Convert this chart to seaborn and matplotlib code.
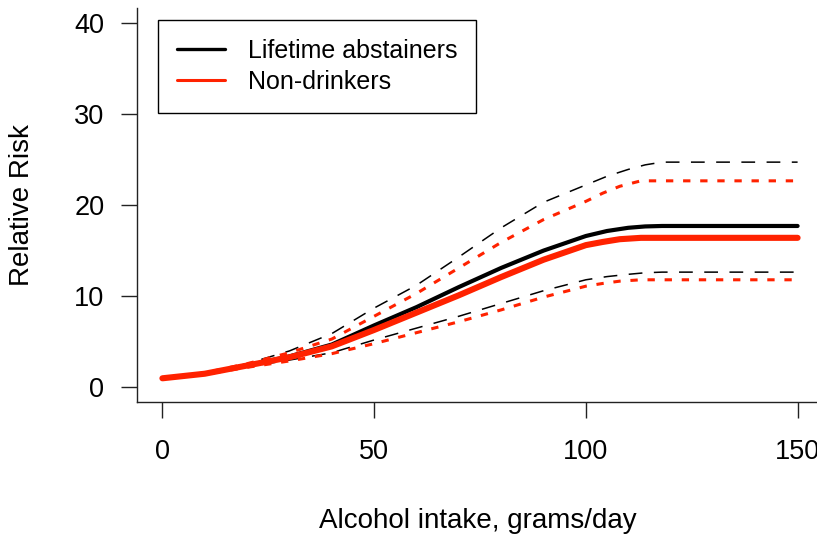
import pandas as pd
import matplotlib
matplotlib.use("Agg")
import matplotlib.pyplot as plt
from matplotlib.lines import Line2D
import seaborn as sns

# relative risk curves
x_abst = [0, 10, 20, 30, 40, 50, 60, 70, 80, 90, 100, 105, 110, 114, 118, 150]
rr_abst = [1.0, 1.5, 2.4, 3.4, 4.7, 6.8, 8.8, 11.0, 13.1, 15.0, 16.6, 17.15, 17.5, 17.65, 17.7, 17.7]
hi_abst = [1.0, 1.6, 2.6, 4.0, 5.9, 8.7, 11.2, 14.3, 17.5, 20.3, 22.2, 23.15, 23.9, 24.4, 24.7, 24.7]
lo_abst = [1.0, 1.45, 2.25, 3.0, 3.8, 5.2, 6.5, 7.8, 9.2, 10.6, 11.8, 12.15, 12.4, 12.57, 12.64, 12.64]

x_non = [0, 10, 20, 30, 40, 50, 60, 70, 80, 90, 100, 104, 108, 113, 150]
rr_non = [1.0, 1.5, 2.4, 3.3, 4.5, 6.3, 8.2, 10.1, 12.1, 14.0, 15.6, 15.95, 16.25, 16.4, 16.4]
hi_non = [1.0, 1.6, 2.6, 3.8, 5.3, 7.8, 10.3, 13.1, 15.9, 18.4, 20.4, 21.3, 22.05, 22.65, 22.65]
lo_non = [1.0, 1.45, 2.2, 2.9, 3.7, 4.8, 6.0, 7.2, 8.5, 9.9, 11.1, 11.4, 11.65, 11.8, 11.8]

labels = ['Lifetime abstainers', 'Non-drinkers']
x_ticks = [0, 50, 100, 150]
y_ticks = [0, 10, 20, 30, 40]

RED = '#FF2200'

sns.set_style('ticks')
plt.rcParams['font.family'] = ['Liberation Sans', 'DejaVu Sans']
plt.rcParams['text.color'] = 'black'
plt.rcParams['axes.labelcolor'] = 'black'
plt.rcParams['xtick.labelcolor'] = 'black'
plt.rcParams['ytick.labelcolor'] = 'black'

fig = plt.figure(figsize=(8.17, 5.38), dpi=100)
ax = fig.add_axes([137/817, 136/538, 686/817, 394/538])

abst = pd.DataFrame({'x': x_abst, 'rr': rr_abst, 'hi': hi_abst, 'lo': lo_abst})
non = pd.DataFrame({'x': x_non, 'rr': rr_non, 'hi': hi_non, 'lo': lo_non})

# black (abstainers) first, red drawn over it
for col in ['hi', 'lo']:
    l = sns.lineplot(data=abst, x='x', y=col, ax=ax, color='black', linewidth=1.1, sort=False)
    l.lines[-1].set_dashes((9, 7.5))
sns.lineplot(data=abst, x='x', y='rr', ax=ax, color='black', linewidth=3.0, sort=False)
for col in ['hi', 'lo']:
    l = sns.lineplot(data=non, x='x', y=col, ax=ax, color=RED, linewidth=2.2, sort=False)
    l.lines[-1].set_dashes((2.4, 3.2))
sns.lineplot(data=non, x='x', y='rr', ax=ax, color=RED, linewidth=4.4, sort=False)

ax.set_xlim(-6, 156)
ax.set_ylim(-1.6, 41.6)
ax.set_xticks(x_ticks)
ax.set_yticks(y_ticks)
ax.tick_params(axis='both', labelsize=19.5, length=11.5, width=1.0, color='#222222')
ax.tick_params(axis='y', pad=12)
ax.tick_params(axis='x', pad=15)
for s in ['top', 'right']:
    ax.spines[s].set_visible(False)
for s in ['left', 'bottom']:
    ax.spines[s].set_linewidth(1.0)
    ax.spines[s].set_color('#222222')

ax.set_xlabel('Alcohol intake, grams/day', fontsize=20)
ax.set_ylabel('Relative Risk', fontsize=20)
ax.xaxis.set_label_coords(0.497, -0.27)
ax.yaxis.set_label_coords(-0.148, 0.5)

handles = [Line2D([], [], color='black', linewidth=2.4),
           Line2D([], [], color=RED, linewidth=2.2)]
leg = ax.legend(handles, labels, loc='upper left', bbox_to_anchor=(0.0306, 0.9695),
                borderaxespad=0, fontsize=18, handlelength=1.95, handletextpad=0.9,
                borderpad=0.75, labelspacing=0.28, fancybox=False, framealpha=1)
leg.get_frame().set_edgecolor('black')
leg.get_frame().set_linewidth(1.0)

fig.savefig('out.png', dpi=100)
